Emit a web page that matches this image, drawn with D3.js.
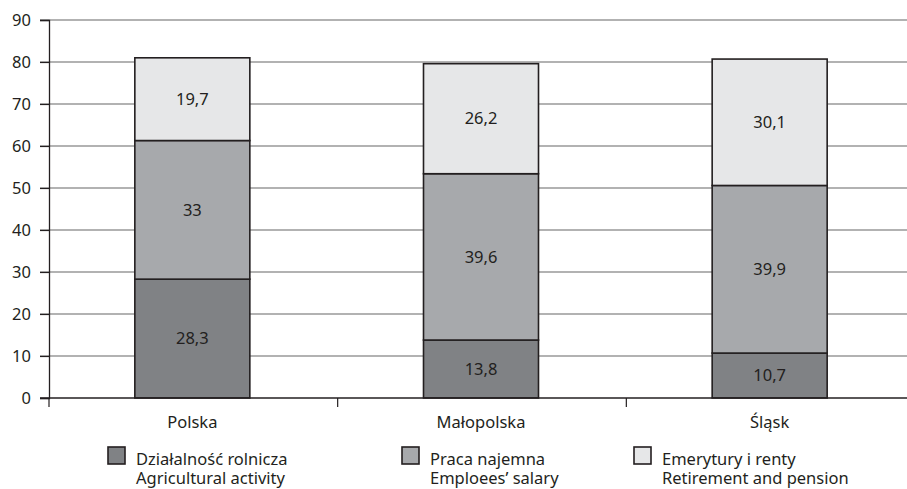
<!DOCTYPE html>
<html><head><meta charset="utf-8">
<script src="https://cdn.jsdelivr.net/npm/d3@7"></script>
<style>
body{margin:0;background:#fff;}
text{font-family:"Noto Sans","Open Sans",sans-serif;fill:#231f20;}
</style></head>
<body><svg id="c" width="907" height="489"></svg>
<script>
const categories = ["Polska", "Małopolska", "Śląsk"];
const agricultural = [28.3, 13.8, 10.7];
const salary = [33, 39.6, 39.9];
const pension = [19.7, 26.2, 30.1];
const valueLabels = [["28,3","33","19,7"],["13,8","39,6","26,2"],["10,7","39,9","30,1"]];
const seriesNames = [["Działalność rolnicza","Agricultural activity"],["Praca najemna","Emploees’ salary"],["Emerytury i renty","Retirement and pension"]];
const colors = ["#808285","#a7a9ac","#e6e7e8"];
const yTicks = [0,10,20,30,40,50,60,70,80,90];

const svg = d3.select("#c");
const y = d3.scaleLinear().domain([0,90]).range([398,20]);
const x = d3.scaleBand().domain(categories).range([48,914]);
const barW = 115;
const fs = 16.5;

// gridlines
svg.append("g").selectAll("line").data(yTicks.slice(1)).join("line")
  .attr("x1",40).attr("x2",907).attr("y1",d=>y(d)).attr("y2",d=>y(d))
  .attr("stroke","#666").attr("stroke-width",1.2);

// y axis
const ya = svg.append("g").attr("transform","translate(49,0)")
  .call(d3.axisLeft(y).tickValues(yTicks).tickSize(9).tickPadding(9));
ya.select(".domain").attr("stroke","#231f20").attr("stroke-width",1.3);
ya.selectAll(".tick line").attr("stroke","#231f20").attr("stroke-width",1.2);
ya.selectAll("text").attr("font-size",fs).attr("font-family","Noto Sans").attr("fill","#231f20");

// bars
const stack = d3.stack().keys([0,1,2]).value((d,k)=>[agricultural,salary,pension][k][d]);
const series = stack(categories.map((c,i)=>i));
series.forEach((s,k)=>{
  svg.append("g").selectAll("rect").data(s).join("rect")
    .attr("x",(d,i)=>x(categories[i])+x.bandwidth()/2-barW/2)
    .attr("width",barW)
    .attr("y",d=>y(d[1])).attr("height",d=>y(d[0])-y(d[1]))
    .attr("fill",colors[k]).attr("stroke","#231f20").attr("stroke-width",1.6);
  svg.append("g").selectAll("text").data(s).join("text")
    .attr("x",(d,i)=>x(categories[i])+x.bandwidth()/2)
    .attr("y",d=>(y(d[0])+y(d[1]))/2)
    .attr("dy","0.35em").attr("text-anchor","middle").attr("font-size",fs)
    .text((d,i)=>valueLabels[i][k]);
});

// x axis
const xa = svg.append("g").attr("transform","translate(0,398)");
xa.append("line").attr("x1",40).attr("x2",907).attr("stroke","#231f20").attr("stroke-width",1.3);
const bounds = [x.range()[0]].concat(categories.slice(1).map(c=>x(c)));
xa.selectAll(".tk").data(bounds).join("line").attr("class","tk")
  .attr("x1",d=>d+1).attr("x2",d=>d+1).attr("y1",0).attr("y2",9)
  .attr("stroke","#231f20").attr("stroke-width",1.2);
xa.selectAll("text").data(categories).join("text")
  .attr("x",c=>x(c)+x.bandwidth()/2).attr("y",30)
  .attr("text-anchor","middle").attr("font-size",fs).text(c=>c);

// legend
const legX = [108,402,634];
seriesNames.forEach((n,k)=>{
  const g = svg.append("g").attr("transform",`translate(${legX[k]},447)`);
  g.append("rect").attr("width",17).attr("height",17).attr("fill",colors[k])
    .attr("stroke","#231f20").attr("stroke-width",1.6);
  const t = g.append("text").attr("font-size",16.5);
  t.append("tspan").attr("x",28).attr("y",18).text(n[0]);
  t.append("tspan").attr("x",28).attr("y",37).text(n[1]);
});
</script></body></html>
